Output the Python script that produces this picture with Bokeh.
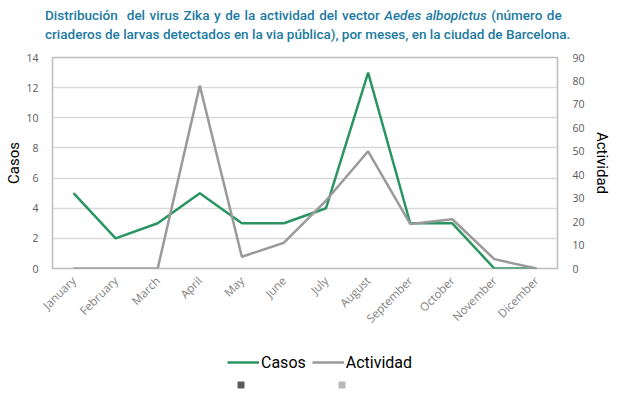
import math
from bokeh.plotting import figure
from bokeh.models import (FactorRange, Range1d, LinearAxis, SingleIntervalTicker,
                          Legend, LegendItem, Div)
from bokeh.layouts import column
from bokeh.embed import file_html
from bokeh.resources import INLINE

months = ["January", "February", "March", "April", "May", "June", "July",
          "August", "September", "October", "November", "Dicember"]
casos = [5, 2, 3, 5, 3, 3, 4, 13, 3, 3, 0, 0]
actividad = [0, 0, 0, 78, 5, 11, 29, 50, 19, 21, 4, 0]

title_1a = "Distribución&nbsp; del virus Zika y de la actividad del vector "
title_1b = "Aedes albopictus"
title_1c = " (número de"
title_2 = "criaderos de larvas detectados en la via pública), por meses, en la ciudad de Barcelona."

GREEN = "#2a9462"
GRAY = "#9a9a9a"
TEAL = "#1b7aa2"

title = Div(
    text=('<div style="font-family:Roboto;font-weight:500;font-size:13.5px;'
          'line-height:19px;color:%s;padding-left:45px;padding-top:6px;white-space:nowrap;">'
          '<span style="word-spacing:1.2px;">%s<i>%s</i>%s</span><br>%s</div>')
         % (TEAL, title_1a, title_1b, title_1c, title_2),
    width=630, height=50, margin=(0, 0, 0, 0))

p = figure(width=630, height=290, x_range=FactorRange(*months, range_padding=0),
           y_range=Range1d(0, 14), output_backend="svg", toolbar_location=None,
           min_border_left=52, min_border_right=73, min_border_top=7,
           min_border_bottom=72, margin=(0, 0, 0, 0))
p.extra_y_ranges = {"act": Range1d(0, 90)}

p.outline_line_color = "#bdbdbd"
p.outline_line_width = 1.5
p.background_fill_color = "white"
p.border_fill_color = "white"

p.xgrid.grid_line_color = None
p.ygrid.grid_line_color = "#d9d9d9"
p.ygrid.grid_line_width = 1.3

r1 = p.line(months, casos, line_color=GREEN, line_width=2.5)
r2 = p.line(months, actividad, line_color=GRAY, line_width=2.5, y_range_name="act")

yl = p.yaxis[0]
yl.ticker = SingleIntervalTicker(interval=2)
yl.axis_label = "Casos"
right = LinearAxis(y_range_name="act", ticker=SingleIntervalTicker(interval=10),
                   axis_label="Actividad")
p.add_layout(right, "right")

for ax in (yl, right):
    ax.axis_line_color = None
    ax.major_tick_line_color = None
    ax.minor_tick_line_color = None
    ax.major_label_text_color = "#595959"
    ax.major_label_text_font = "Open Sans"
    ax.major_label_text_font_size = "10.5px"
    ax.axis_label_text_font = "Roboto"
    ax.axis_label_text_font_style = "normal"
    ax.axis_label_text_font_size = "15px"
    ax.axis_label_text_color = "black"
yl.major_label_standoff = 8
yl.axis_label_standoff = 0
right.major_label_standoff = 9
right.axis_label_standoff = 5

xa = p.xaxis[0]
xa.axis_line_color = None
xa.major_tick_line_color = None
xa.minor_tick_line_color = None
xa.major_label_orientation = math.pi / 4
xa.major_label_text_color = "#7f7f7f"
xa.major_label_text_font = "Open Sans"
xa.major_label_text_font_size = "11.5px"
xa.major_label_standoff = 4

# legend strip (separate small figure so the legend is not clipped)
lf = figure(width=630, height=54, x_range=Range1d(0, 1), y_range=Range1d(0, 1),
            x_axis_type=None, y_axis_type=None,
            output_backend="svg", toolbar_location=None, min_border=0,
            min_border_left=0, min_border_right=0, min_border_top=0,
            min_border_bottom=0, margin=(0, 0, 0, 0))
lf.grid.visible = False
lf.outline_line_color = None
lf.background_fill_color = "white"
lf.border_fill_color = "white"
nan = float("nan")
g1 = lf.line([nan], [nan], line_color=GREEN, line_width=2.5)
g2 = lf.line([nan], [nan], line_color=GRAY, line_width=2.5)

leg = Legend(items=[LegendItem(label="Casos", renderers=[g1]),
                    LegendItem(label="Actividad", renderers=[g2])],
             orientation="horizontal", location=(175, 22))
leg.border_line_color = None
leg.background_fill_alpha = 0
leg.label_text_font = "Roboto"
leg.label_text_font_size = "16px"
leg.label_text_color = "black"
leg.glyph_width = 32
leg.label_standoff = 2
leg.spacing = 6
leg.padding = 0
leg.margin = 0
lf.add_layout(leg, "center")

s1 = lf.scatter([nan], [nan], marker="square", size=6,
                fill_color="#5a5a5a", line_color="#5a5a5a")
s2 = lf.scatter([nan], [nan], marker="square", size=6,
                fill_color="#b8b8b8", line_color="#b8b8b8")
leg2 = Legend(items=[LegendItem(label=" ", renderers=[s1]),
                     LegendItem(label=" ", renderers=[s2])],
              orientation="horizontal", location=(181, 2))
leg2.border_line_color = None
leg2.background_fill_alpha = 0
leg2.glyph_width = 15
leg2.glyph_height = 15
leg2.label_width = 0
leg2.label_height = 15
leg2.label_standoff = 0
leg2.label_text_font_size = "4px"
leg2.spacing = 86
leg2.padding = 0
leg2.margin = 0
lf.add_layout(leg2, "center")

out = column(title, p, lf, spacing=0)
open("out.html", "w").write(file_html(out, INLINE))
